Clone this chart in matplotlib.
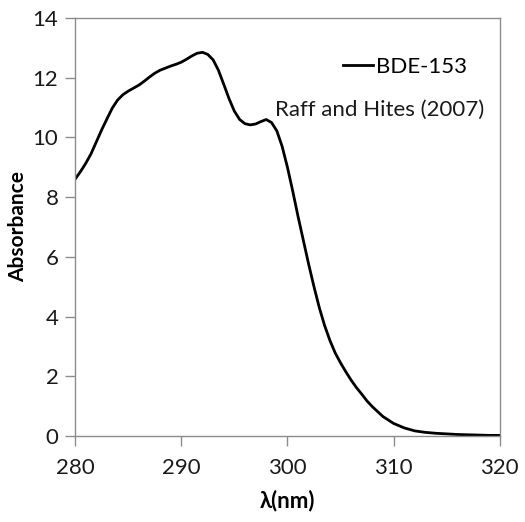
import matplotlib
matplotlib.use("Agg")
import matplotlib.pyplot as plt

plt.rcParams['font.family'] = ['Lato', 'DejaVu Sans']

# BDE-153 absorbance spectrum
wavelength = [280, 280.5, 281, 281.5, 282, 282.5, 283, 283.5, 284, 284.5,
              285, 285.5, 286, 286.5, 287, 287.5, 288, 288.5, 289, 289.5,
              290, 290.5, 291, 291.5, 292, 292.5, 293, 293.5, 294, 294.5,
              295, 295.5, 296, 296.5, 297, 297.5, 298, 298.5, 299, 299.5,
              300, 300.5, 301, 301.5, 302, 302.5, 303, 303.5, 304, 304.5,
              305, 305.5, 306, 306.5, 307, 307.5, 308, 309, 310,
              311, 312, 313, 314, 315, 316, 317, 318, 319, 320]
absorbance = [8.6, 8.85, 9.13, 9.45, 9.85, 10.25, 10.62, 10.98, 11.25, 11.43,
              11.55, 11.65, 11.75, 11.88, 12.02, 12.15, 12.25, 12.32, 12.39, 12.45,
              12.52, 12.62, 12.73, 12.82, 12.85, 12.78, 12.6, 12.25, 11.78, 11.3,
              10.88, 10.6, 10.46, 10.42, 10.45, 10.53, 10.6, 10.5, 10.22, 9.7,
              9.0, 8.2, 7.35, 6.55, 5.75, 5.0, 4.3, 3.7, 3.2, 2.78,
              2.45, 2.15, 1.87, 1.62, 1.4, 1.17, 0.98, 0.65, 0.42,
              0.27, 0.17, 0.12, 0.09, 0.07, 0.05, 0.04, 0.03, 0.02, 0.02]

xticks = [280, 290, 300, 310, 320]
yticks = [0, 2, 4, 6, 8, 10, 12, 14]

fig = plt.figure(figsize=(5.25, 5.22), dpi=100)
ax = fig.add_axes([0.143, 0.1648, 0.809, 0.8007])

ax.plot(wavelength, absorbance, color='black', lw=2, label='BDE-153',
        solid_joinstyle='round')

ax.set_xlim(280, 320)
ax.set_ylim(0, 14)
ax.set_xticks(xticks)
ax.set_yticks(yticks)
for s in ax.spines.values():
    s.set_color('#8c8c8c')
    s.set_linewidth(1)
ax.tick_params(direction='out', length=7, width=1, color='#8c8c8c',
               labelsize=16, labelcolor='#1a1a1a', pad=5)
ax.tick_params(axis='x', pad=9)

ax.set_xlabel('λ(nm)', fontsize=16, fontweight='bold', labelpad=8)
ax.set_ylabel('Absorbance', fontsize=15, fontweight='bold', labelpad=3)

ax.legend(loc='center left', bbox_to_anchor=(0.63, 0.883), frameon=False,
          fontsize=16, handlelength=1.35, handletextpad=0.15,
          borderpad=0, borderaxespad=0)
ax.text(0.47, 0.78, 'Raff and Hites (2007)', transform=ax.transAxes,
        fontsize=16, va='center', ha='left', color='#1a1a1a')

fig.savefig('out.png', dpi=100)
